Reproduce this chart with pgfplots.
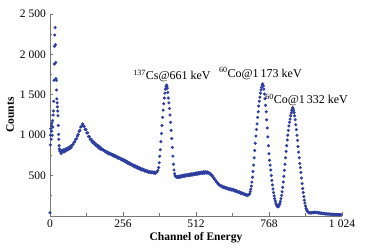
\documentclass[border=0pt]{standalone}
\usepackage{fontspec}
\setmainfont{Liberation Serif}
\usepackage{pgfplots}
\pgfplotsset{compat=1.18}
\definecolor{dotblue}{RGB}{45,62,160}
\definecolor{axgray}{RGB}{120,120,120}
\begin{document}
\fontsize{11.5}{13}\selectfont
\begin{tikzpicture}
\begin{axis}[
  scale only axis,
  width=292pt, height=202pt,
  xmin=0, xmax=1024, ymin=0, ymax=2500,
  axis x line*=bottom, axis y line*=left,
  axis line style={draw=axgray, line width=0.7pt, -},
  tick style={draw=axgray, line width=0.6pt},
  tick align=inside,
  major tick length=3.5pt, minor tick length=2.5pt,
  xtick={0,256,512,768,1024},
  xticklabels={0,256,512,768,1\;024},
  minor xtick={128,384,640,896},
  ytick={500,1000,1500,2000,2500},
  yticklabels={500,1\;000,1\;500,2\;000,2\;500},
  minor ytick={250,750,1250,1750,2250},
  tick label style={font=\fontsize{11.5}{13}\selectfont},
  xlabel={\textbf{Channel of Energy}},
  ylabel={\textbf{Counts}},
  label style={font=\fontsize{11.5}{13}\selectfont},
  xlabel style={yshift=3pt},
  ylabel style={yshift=-2pt},
  clip=false,
]
\addplot[only marks, mark=*, mark size=1.35pt, color=dotblue, mark options={draw=none, fill=dotblue}] coordinates {
(0,40)(1,880)(2,1000)(3,1080)(4,950)(5,1120)(6,1050)(7,1150)(8,1000)(9,1180)
(10,1100)(11,1250)(12,1300)(13,1420)(14,1680)(15,1880)(16,2100)(17,2240)(18,2330)(19,2120)
(20,1900)(21,1700)(22,1680)(23,1560)(24,1450)(25,1400)(26,1350)(27,1300)(28,1240)(29,1120)
(30,1010)(31,950)(32,870)(33,830)(34,805)
(36,800)(39,772)(42,815)(45,790)(48,818)(51,795)(54,828)(57,808)(60,840)(63,820)
(66,850)(69,832)(72,865)(75,850)(78,880)(81,885)(84,912)(87,918)(90,948)(93,955)
(96,990)(99,1010)(102,1048)(105,1062)(108,1102)(111,1110)(114,1140)(117,1120)(120,1108)(123,1072)
(126,1070)(129,1028)(132,1030)(135,985)(138,982)(141,948)(144,952)(147,918)(150,928)(153,898)
(156,908)(159,878)(162,890)(165,862)(168,873)(171,842)(174,858)(177,828)(180,838)(183,818)
(186,822)(189,808)(192,808)(195,792)(198,798)(201,778)(204,788)(207,768)(210,778)(213,762)
(216,766)(219,748)(222,758)(225,738)(228,748)(231,732)(234,738)(237,718)(240,728)(243,710)
(246,716)(249,698)(252,706)(255,688)(258,698)(261,678)(264,688)(267,665)(270,675)(273,652)
(276,662)(279,642)(282,652)(285,630)(288,640)(291,620)(294,630)(297,608)(300,618)(303,598)
(306,608)(309,588)(312,600)(315,580)(318,590)(321,570)(324,582)(327,565)(330,572)(333,555)
(336,565)(339,548)(342,558)(345,540)(348,552)(351,538)(354,548)(357,535)(360,545)(363,532)
(366,542)(369,525)(372,540)(375,545)(378,565)(381,600)
(383,660)(385,740)(387,820)(389,920)(391,1020)(393,1120)(395,1220)(397,1310)(399,1390)(401,1460)
(403,1520)(405,1570)(407,1605)(409,1620)(410,1600)(411,1580)(413,1530)(415,1460)(417,1400)(419,1330)
(421,1250)(423,1160)(425,1060)(427,960)(429,850)(431,740)(433,640)(435,570)(437,525)(439,500)
(441,490)(443,482)
(446,478)(449,492)(452,476)(455,496)(458,482)(461,500)(464,486)(467,505)(470,490)(473,508)
(476,494)(479,512)(482,498)(485,515)(488,500)(491,520)(494,504)(497,522)(500,508)(503,526)
(506,512)(509,530)(512,515)(515,534)(518,518)(521,538)(524,522)(527,542)(530,526)(533,545)
(536,528)(539,548)(542,530)(545,550)(548,532)(551,546)(554,528)(557,538)(560,520)(563,522)
(566,502)(569,500)(572,478)(575,472)(578,452)(581,440)(584,420)(587,412)(590,392)(593,390)
(596,375)(599,378)(602,362)(605,368)(608,352)(611,360)(614,345)(617,352)(620,338)(623,346)
(626,332)(629,340)(632,326)(635,335)(638,320)(641,330)(644,315)(647,322)(650,305)(653,315)
(656,298)(659,305)(662,290)(665,298)(668,282)(671,290)(674,275)(677,282)(680,268)(683,272)
(686,260)(689,265)(692,252)(695,262)(698,268)
(700,275)(702,300)(704,330)(706,370)(708,420)(710,480)(712,550)(714,630)(716,720)(718,810)
(720,900)(722,990)(724,1070)(726,1140)(728,1220)(730,1290)(732,1360)(734,1420)(736,1470)(738,1520)
(740,1560)(742,1590)(744,1620)(746,1635)(748,1610)(750,1570)(752,1510)(754,1450)(756,1370)(758,1290)
(760,1190)(762,1090)(764,980)(766,870)(768,770)(770,690)(772,630)(774,570)(776,500)(778,440)
(780,385)(782,335)(784,290)(786,250)(788,215)(790,185)(792,160)(794,140)(796,125)(798,116)
(800,114)(802,120)(804,135)(806,155)(808,180)(810,215)(812,255)(814,300)(816,355)(818,420)
(820,490)(822,565)(824,640)(826,720)(828,800)(830,870)(832,940)(834,1000)(836,1060)(838,1115)
(840,1160)(842,1200)(844,1240)(846,1275)(848,1305)(850,1330)(851,1340)(852,1335)(854,1310)(856,1280)
(858,1240)(860,1190)(862,1130)(864,1070)(866,1000)(868,936)(870,860)(872,790)(874,720)(876,650)
(878,600)(880,540)(882,470)(884,400)(886,340)(888,290)(890,240)(892,195)(894,160)(896,125)
(898,95)(900,75)(902,62)(904,52)(906,45)
(909,40)(912,36)(915,42)(918,38)(921,45)(924,40)(927,48)(930,42)(933,46)(936,40)
(939,44)(942,36)(945,40)(948,34)(951,38)(954,30)(957,34)(960,28)(963,30)(966,25)
(969,28)(972,24)(975,26)(978,22)(981,25)(984,21)(987,23)(990,20)(993,22)(996,19)
(999,21)(1002,18)(1005,20)(1008,17)(1011,19)(1014,16)(1017,18)(1020,16)
};
\node[font=\fontsize{12}{14}\selectfont] at (axis cs:428,1730) {\textsuperscript{137}Cs@661 keV};
\node[font=\fontsize{12}{14}\selectfont] at (axis cs:738,1765) {\textsuperscript{60}Co@1\,173 keV};
\node[font=\fontsize{12}{14}\selectfont] at (axis cs:900,1435) {\textsuperscript{60}Co@1\,332 keV};
\end{axis}
\pgfresetboundingbox
\path ([shift={(-50pt,-35pt)}]current axis.south west) rectangle ([shift={(30pt,14pt)}]current axis.north east);
\end{tikzpicture}
\end{document}
